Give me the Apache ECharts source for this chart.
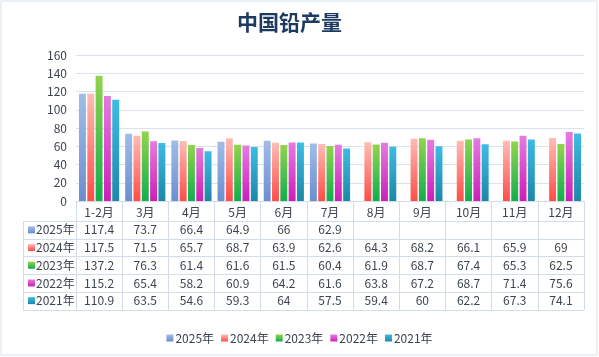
<!DOCTYPE html>
<html><head><meta charset="utf-8">
<script src="https://cdn.jsdelivr.net/npm/echarts@6/dist/echarts.min.js"></script>
<style>html,body{margin:0;padding:0;background:#fff}#c{width:599px;height:357px}</style>
</head><body><div id="c"></div>
<script>
var title = '中国铅产量';
var categories = ['1-2月','3月','4月','5月','6月','7月','8月','9月','10月','11月','12月'];
var seriesNames = ['2025年','2024年','2023年','2022年','2021年'];
var v2025 = [117.4,73.7,66.4,64.9,66,62.9,null,null,null,null,null];
var v2024 = [117.5,71.5,65.7,68.7,63.9,62.6,64.3,68.2,66.1,65.9,69];
var v2023 = [137.2,76.3,61.4,61.6,61.5,60.4,61.9,68.7,67.4,65.3,62.5];
var v2022 = [115.2,65.4,58.2,60.9,64.2,61.6,63.8,67.2,68.7,71.4,75.6];
var v2021 = [110.9,63.5,54.6,59.3,64,57.5,59.4,60,62.2,67.3,74.1];
var yTicks = [0,20,40,60,80,100,120,140,160];

var values = [v2025,v2024,v2023,v2022,v2021];
var grads = [['#a0bde8','#6a8ed0'],['#ffbcb4','#ff4c48'],['#92d44c','#10ae4e'],['#e47ce0','#cc1eb8'],['#3cbce4','#1d88a6']];
function grad(g){return new echarts.graphic.LinearGradient(0,0,0,1,[{offset:0,color:g[0]},{offset:1,color:g[1]}]);}
var txt = '#3c4450';
var lineC = '#d3dde9';
var font = "'Microsoft YaHei','Noto Sans CJK SC',sans-serif";

var chart = echarts.init(document.getElementById('c'));
var series = seriesNames.map(function(n,i){
  return {name:n,type:'bar',data:values[i],barGap:'20%',barCategoryGap:'13%',
    itemStyle:{color:grad(grads[i])}};
});
chart.setOption({
  animation:false,
  backgroundColor:'#fff',
  textStyle:{fontFamily:font},
  title:{text:title,left:232,top:7,textStyle:{fontSize:21,fontWeight:'bold',color:'#1f3a62',fontFamily:"'Noto Sans CJK SC',serif"}},
  grid:{left:76,right:15,top:55,height:146},
  legend:{bottom:8,left:'center',icon:'rect',itemWidth:7,itemHeight:7,itemGap:7,
    textStyle:{fontSize:12,color:txt,padding:[0,0,0,-3]},data:seriesNames},
  xAxis:{type:'category',data:categories,
    axisLine:{lineStyle:{color:lineC}},
    axisTick:{show:true,length:109,lineStyle:{color:lineC}},
    axisLabel:{color:txt,fontSize:12,margin:5}},
  yAxis:{type:'value',min:yTicks[0],max:yTicks[yTicks.length-1],interval:20,
    axisLine:{show:false},axisTick:{show:false},
    axisLabel:{color:txt,fontSize:12,margin:9},
    splitLine:{lineStyle:{color:'#d9e2ed'}}},
  series:series
});

// data table
var rowTop = 221, rowH = 17.7, left = 23, right = 584;
var g = [];
g.push({type:'rect',shape:{x:1,y:1,width:596,height:354},style:{fill:null,stroke:'#d6e1ee',lineWidth:1},silent:true});
for (var r=0;r<=seriesNames.length;r++){
  var y = Math.round(rowTop + r*rowH)+0.5;
  g.push({type:'line',shape:{x1:left,y1:y,x2:right,y2:y},style:{stroke:lineC,lineWidth:1},silent:true});
}
g.push({type:'line',shape:{x1:left+0.5,y1:rowTop,x2:left+0.5,y2:Math.round(rowTop+5*rowH)+0.5},style:{stroke:lineC,lineWidth:1},silent:true});
for (var i=0;i<seriesNames.length;i++){
  var cy = rowTop + i*rowH + rowH/2;
  g.push({type:'rect',shape:{x:28,y:cy-3.5,width:7,height:7},style:{fill:grad(grads[i])},silent:true});
  g.push({type:'text',x:36,y:cy,style:{text:seriesNames[i],fill:txt,font:'12px '+font,textVerticalAlign:'middle',verticalAlign:'middle'},silent:true});
  for (var j=0;j<categories.length;j++){
    var val = values[i][j];
    if (val===null) continue;
    var cx = chart.convertToPixel({xAxisIndex:0}, categories[j]);
    g.push({type:'text',x:cx,y:cy,style:{text:String(val),fill:txt,font:'12px '+font,align:'center',textAlign:'center',verticalAlign:'middle',textVerticalAlign:'middle'},silent:true});
  }
}
chart.setOption({graphic:g});
</script></body></html>
